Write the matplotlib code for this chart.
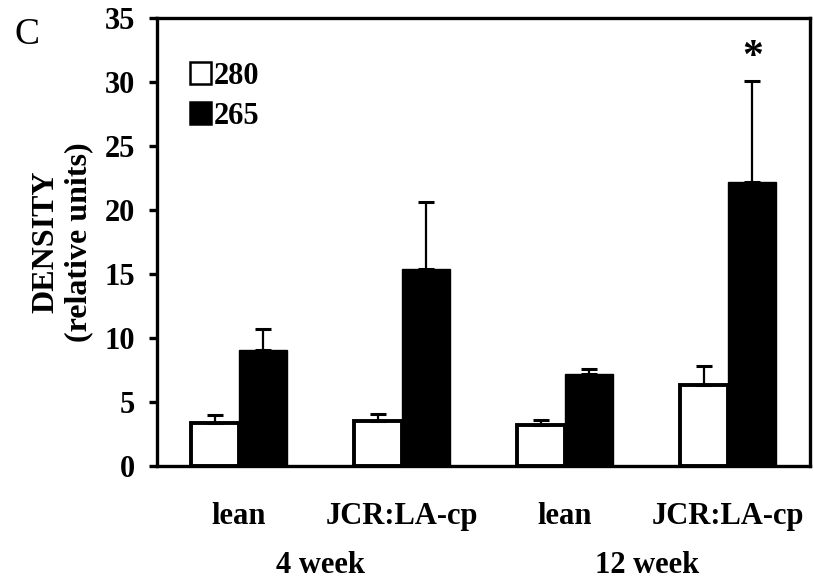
import matplotlib
matplotlib.use("Agg")
import matplotlib.pyplot as plt
import numpy as np

plt.rcParams['font.family'] = ['Liberation Serif', 'DejaVu Serif']

groups = ['lean', 'JCR:LA-cp', 'lean', 'JCR:LA-cp']
ages = ['4 week', '12 week']
val_280 = [3.4, 3.5, 3.2, 6.3]
err_280 = [0.6, 0.6, 0.4, 1.5]
val_265 = [9.1, 15.4, 7.2, 22.2]
err_265 = [1.6, 5.2, 0.4, 7.9]
yticks = [0, 5, 10, 15, 20, 25, 30, 35]

fig = plt.figure(figsize=(8.14, 5.84), dpi=100)
ax = fig.add_axes([0.193, 0.202, 0.802, 0.767])

x = np.arange(len(groups))
w = 0.295
ax.bar(x - w / 2, val_280, w, color='white', edgecolor='black', linewidth=2.8,
       yerr=[np.zeros(4), err_280], capsize=5.5,
       error_kw=dict(elinewidth=1.6, capthick=2.2), label='280', zorder=2)
ax.bar(x + w / 2, val_265, w, color='black', edgecolor='black', linewidth=1,
       yerr=[np.zeros(4), err_265], capsize=5.5,
       error_kw=dict(elinewidth=1.6, capthick=2.2), label='265', zorder=2)

# significance mark
ax.text(3 + w / 2, val_265[3] + err_265[3] + 1.8, '*', ha='center', va='center',
        fontsize=30, fontweight='bold')

ax.set_xlim(-0.5, 3.5)
ax.set_ylim(0, 35)
ax.set_yticks(yticks)
ax.set_xticks(x)
ax.set_xticklabels(groups)
ax.tick_params(axis='x', length=0, pad=26, labelsize=22)
ax.tick_params(axis='y', direction='out', length=6, width=2.4, labelsize=22, pad=10)
for lbl in ax.get_xticklabels() + ax.get_yticklabels():
    lbl.set_fontweight('bold')
for s in ax.spines.values():
    s.set_linewidth(2.4)

ax.set_ylabel('DENSITY\n(relative units)', fontsize=23, fontweight='bold',
              labelpad=8, linespacing=1.15)

for xc, age in zip([0.5, 2.5], ages):
    ax.text(xc, -0.19, age, transform=ax.get_xaxis_transform(), ha='center',
            va='top', fontsize=22, fontweight='bold')

fig.text(0.018, 0.94, 'C', fontsize=27, ha='left', va='center')

leg = ax.legend(loc='upper left', bbox_to_anchor=(0.05, 0.903), frameon=False,
                prop=dict(size=22, weight='bold'), handlelength=0.7,
                handleheight=0.7, handletextpad=0.1, labelspacing=0.36,
                borderaxespad=0, borderpad=0)
for h in leg.legend_handles:
    h.set_linewidth(1.8)

fig.savefig('out.png', dpi=100)
